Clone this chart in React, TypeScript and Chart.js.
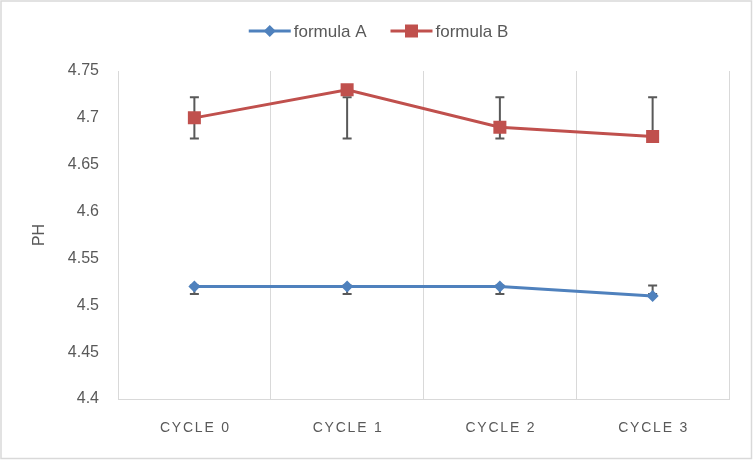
import React, { useEffect, useRef } from "react";
import { Chart, registerables } from "chart.js";

Chart.register(...registerables);

const categories = ["CYCLE 0", "CYCLE 1", "CYCLE 2", "CYCLE 3"];
const formulaA = [4.52, 4.52, 4.52, 4.51];
const formulaB = [4.7, 4.73, 4.69, 4.68];
const errLowA = [4.512, 4.512, 4.512, 4.512];
const errHighA = [4.521, 4.521, 4.521, 4.521];
const errLowB = [4.678, 4.678, 4.678, 4.678];
const errHighB = [4.722, 4.722, 4.722, 4.722];
const yTicks = [4.4, 4.45, 4.5, 4.55, 4.6, 4.65, 4.7, 4.75];
const seriesNames = ["formula A", "formula B"];

const BLUE = "#4F81BD";
const RED = "#C0504D";
const TEXT = "#595959";
const GRID = "#D9D9D9";
const FONT = "'Liberation Sans', Arial, sans-serif";

const errorBarsPlugin = {
  id: "errorBars",
  beforeDatasetsDraw(chart: any) {
    const ctx = chart.ctx;
    const xs = chart.scales.x;
    const ys = chart.scales.y;
    const sets = [
      [errLowA, errHighA],
      [errLowB, errHighB],
    ];
    ctx.save();
    ctx.strokeStyle = "#595959";
    ctx.lineWidth = 2;
    sets.forEach(([lo, hi]) => {
      lo.forEach((l: number, j: number) => {
        const x = xs.getPixelForValue(j);
        const y1 = ys.getPixelForValue(l);
        const y2 = ys.getPixelForValue(hi[j]);
        ctx.beginPath();
        ctx.moveTo(x, y1);
        ctx.lineTo(x, y2);
        ctx.moveTo(x - 4.5, y1);
        ctx.lineTo(x + 4.5, y1);
        ctx.moveTo(x - 4.5, y2);
        ctx.lineTo(x + 4.5, y2);
        ctx.stroke();
      });
    });
    ctx.restore();
  },
};

const extrasPlugin = {
  id: "extras",
  afterDraw(chart: any) {
    const ctx = chart.ctx;
    const xs = chart.scales.x;
    const w = chart.width;
    ctx.save();
    // outer border
    ctx.strokeStyle = GRID;
    ctx.lineWidth = 1.5;
    ctx.strokeRect(1, 1, w - 2.5, chart.height - 2.5);

    // category labels with letter spacing
    ctx.fillStyle = TEXT;
    ctx.font = `14px ${FONT}`;
    (ctx as any).letterSpacing = "1.8px";
    ctx.textAlign = "center";
    ctx.textBaseline = "middle";
    categories.forEach((c, i) => {
      ctx.fillText(c, xs.getPixelForValue(i) + 1, 428);
    });
    (ctx as any).letterSpacing = "0px";

    // legend
    ctx.font = `17px ${FONT}`;
    ctx.textAlign = "left";
    const lineLen = 42;
    const gapText = 3;
    const gapItem = 24;
    const widths = seriesNames.map((n) => ctx.measureText(n).width);
    const total = widths.reduce((a, b) => a + b, 0) + seriesNames.length * (lineLen + gapText) + gapItem * (seriesNames.length - 1);
    let x = w / 2 - total / 2 + 2;
    const y = 31;
    seriesNames.forEach((n, i) => {
      const col = i === 0 ? BLUE : RED;
      ctx.strokeStyle = col;
      ctx.lineWidth = 3;
      ctx.beginPath();
      ctx.moveTo(x, y);
      ctx.lineTo(x + lineLen, y);
      ctx.stroke();
      const cx = x + lineLen / 2;
      ctx.fillStyle = col;
      ctx.beginPath();
      if (i === 0) {
        ctx.moveTo(cx - 6, y);
        ctx.lineTo(cx, y - 6);
        ctx.lineTo(cx + 6, y);
        ctx.lineTo(cx, y + 6);
        ctx.closePath();
      } else {
        ctx.rect(cx - 6.5, y - 6.5, 13, 13);
      }
      ctx.fill();
      ctx.fillStyle = TEXT;
      ctx.fillText(n, x + lineLen + gapText, y + 1);
      x += lineLen + gapText + widths[i] + gapItem;
    });
    ctx.restore();
  },
};

export default function App() {
  const ref = useRef<HTMLCanvasElement>(null);
  useEffect(() => {
    document.body.style.margin = "0";
    const chart = new Chart(ref.current as HTMLCanvasElement, {
      type: "line",
      data: {
        labels: categories,
        datasets: [
          {
            label: seriesNames[0],
            data: formulaA,
            borderColor: BLUE,
            backgroundColor: BLUE,
            borderWidth: 3,
            pointStyle: "rectRot",
            pointRadius: 6,
            pointBorderWidth: 0,
            pointBackgroundColor: BLUE,
            tension: 0,
          },
          {
            label: seriesNames[1],
            data: formulaB,
            borderColor: RED,
            backgroundColor: RED,
            borderWidth: 3,
            pointStyle: "rect",
            pointRadius: 9.2,
            pointBorderWidth: 0,
            pointBackgroundColor: RED,
            tension: 0,
          },
        ],
      },
      options: {
        animation: false,
        responsive: false,
        devicePixelRatio: 1,
        layout: { padding: { top: 71, right: 24, left: 0, bottom: 0 } },
        plugins: {
          legend: { display: false },
          tooltip: { enabled: false },
        },
        scales: {
          x: {
            offset: true,
            grid: { display: true, offset: true, color: GRID, lineWidth: 1, drawTicks: false },
            border: { display: true, color: GRID, width: 1 },
            ticks: { display: false },
            afterFit: (s: any) => {
              s.height = 61;
            },
          },
          y: {
            min: 4.4,
            max: 4.75,
            grid: { display: false, drawTicks: false },
            border: { display: true, color: GRID, width: 1 },
            afterBuildTicks: (s: any) => {
              s.ticks = yTicks.map((v) => ({ value: v }));
            },
            ticks: {
              color: TEXT,
              padding: 19,
              font: { family: FONT, size: 16 },
              callback: (v: any) => String(Number(Number(v).toFixed(2))),
            },
            title: {
              display: true,
              text: "PH",
              color: TEXT,
              font: { family: FONT, size: 16 },
              padding: { top: 30, bottom: 0 },
            },
            afterFit: (s: any) => {
              s.width = 118;
            },
          },
        },
      },
      plugins: [errorBarsPlugin, extrasPlugin],
    });
    return () => chart.destroy();
  }, []);
  return (
    <div style={{ width: 753, height: 460 }}>
      <canvas ref={ref} width={753} height={460} style={{ display: "block" }} />
    </div>
  );
}
